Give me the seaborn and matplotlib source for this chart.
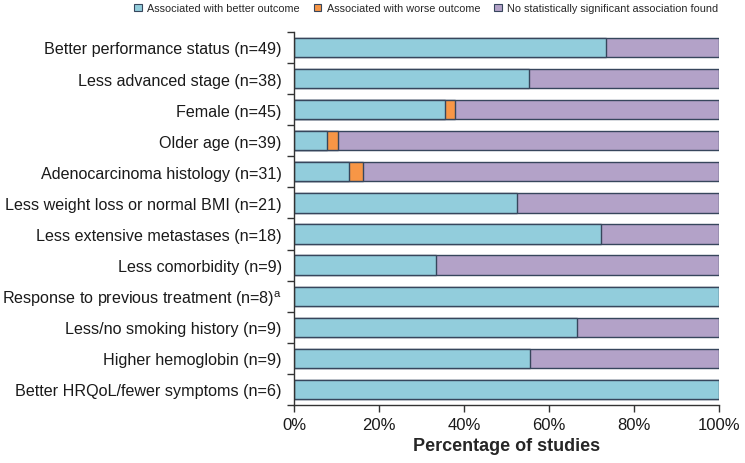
import matplotlib
matplotlib.use("Agg")
import matplotlib.pyplot as plt
import matplotlib.patches as mpatches
from matplotlib.ticker import FixedLocator, PercentFormatter
import seaborn as sns
import pandas as pd
import numpy as np

sns.set_style("white")
plt.rcParams['font.family'] = ['Liberation Sans', 'DejaVu Sans']

categories = [
    "Better performance status (n=49)",
    "Less advanced stage (n=38)",
    "Female (n=45)",
    "Older age (n=39)",
    "Adenocarcinoma histology (n=31)",
    "Less weight loss or normal BMI (n=21)",
    "Less extensive metastases (n=18)",
    "Less comorbidity (n=9)",
    r"Response to previous treatment (n=8)$^\mathregular{a}$",
    "Less/no smoking history (n=9)",
    "Higher hemoglobin (n=9)",
    "Better HRQoL/fewer symptoms (n=6)",
]
n_studies = [49, 38, 45, 39, 31, 21, 18, 9, 8, 9, 9, 6]
better = [36, 21, 16, 3, 4, 11, 13, 3, 8, 6, 5, 6]
worse = [0, 0, 1, 1, 1, 0, 0, 0, 0, 0, 0, 0]
series_names = ["Associated with better outcome", "Associated with worse outcome",
                "No statistically significant association found"]
colors = ["#92CDDC", "#F79646", "#B3A2C8"]
edge = "#37465C"

df = pd.DataFrame({"category": categories, "n": n_studies, "better": better, "worse": worse})
df["pct_better"] = df["better"] / df["n"] * 100
df["pct_better_worse"] = (df["better"] + df["worse"]) / df["n"] * 100
df["pct_total"] = 100.0

fig = plt.figure(figsize=(7.45, 4.64), dpi=100)
ax = fig.add_axes([0.395, 0.125, 0.57, 0.804])

bw = 0.62
sns.barplot(data=df, y="category", x="pct_total", color=colors[2], width=bw,
            edgecolor=edge, linewidth=1.0, saturation=1, ax=ax, orient="h")
sns.barplot(data=df[df["worse"] > 0].reindex(df.index), y="category", x="pct_better_worse",
            color=colors[1], width=bw, edgecolor=edge, linewidth=1.0, saturation=1, ax=ax, orient="h")
sns.barplot(data=df, y="category", x="pct_better", color=colors[0], width=bw,
            edgecolor=edge, linewidth=1.0, saturation=1, ax=ax, orient="h")

ax.set_xlim(0, 100)
ax.set_ylim(len(categories) - 0.5, -0.5)
ax.set_xticks([0, 20, 40, 60, 80, 100])
ax.xaxis.set_major_formatter(PercentFormatter(decimals=0))
ax.set_ylabel("")
ax.set_xlabel("Percentage of studies", fontsize=13, fontweight="bold", labelpad=3)

ax.tick_params(axis="y", which="major", length=0, labelsize=11.6, pad=9, labelcolor="#1a1a1a")
ax.yaxis.set_minor_locator(FixedLocator(np.arange(-0.5, len(categories), 1.0)))
ax.tick_params(axis="y", which="minor", length=5, width=1, direction="out", color="#333333", left=True)
ax.tick_params(axis="x", which="major", length=5, width=1, direction="out", color="#333333",
               labelsize=12, pad=4, bottom=True, labelcolor="#1a1a1a")

for s in ["top", "right"]:
    ax.spines[s].set_visible(False)
for s in ["left", "bottom"]:
    ax.spines[s].set_color("#333333")
    ax.spines[s].set_linewidth(1.0)

handles = [mpatches.Patch(facecolor=c, edgecolor=edge, linewidth=0.8, label=l)
           for c, l in zip(colors, series_names)]
fig.legend(handles=handles, loc="upper center", bbox_to_anchor=(0.572, 1.012), ncol=3,
           frameon=False, fontsize=7.8, handlelength=0.7, handleheight=0.7,
           handletextpad=0.5, columnspacing=1.3)

fig.savefig("out.png", dpi=100)
